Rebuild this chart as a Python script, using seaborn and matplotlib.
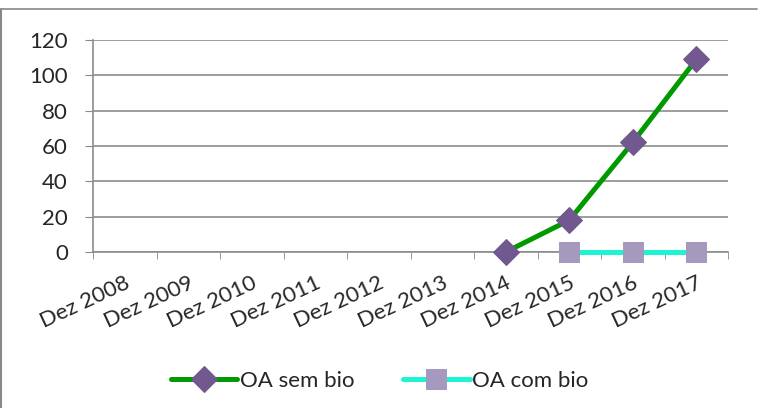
import matplotlib
matplotlib.use('Agg')
import matplotlib.pyplot as plt
import pandas as pd
import seaborn as sns
from matplotlib.lines import Line2D

# chart data
months = ['Dez 2008', 'Dez 2009', 'Dez 2010', 'Dez 2011', 'Dez 2012',
          'Dez 2013', 'Dez 2014', 'Dez 2015', 'Dez 2016', 'Dez 2017']
sem_bio = [None, None, None, None, None, None, 0, 18, 62, 109]
com_bio = [None, None, None, None, None, None, None, 0, 0, 0]
yticks = [0, 20, 40, 60, 80, 100, 120]

df = pd.DataFrame({'mes': months, 'OA sem bio': sem_bio, 'OA com bio': com_bio})
df['pos'] = range(len(months))
long = df.melt(id_vars=['mes', 'pos'], var_name='serie', value_name='valor').dropna()

sns.set_style('white')
plt.rcParams['font.family'] = ['Lato', 'DejaVu Sans']

fig = plt.figure(figsize=(7.59, 4.08), dpi=100)
ax = fig.add_axes([93 / 759, 1 - 252 / 408, (728 - 93) / 759, 212 / 408])

# green line with purple diamonds, cyan line with lavender squares
sns.lineplot(data=long[long['serie'] == 'OA sem bio'], x='pos', y='valor', ax=ax,
             color='#009A00', linewidth=3.6, marker='D', markersize=13,
             markerfacecolor='#71588F', markeredgecolor='#71588F', label='OA sem bio',
             clip_on=False, zorder=4)
sns.lineplot(data=long[long['serie'] == 'OA com bio'], x='pos', y='valor', ax=ax,
             color='#1CF4D4', linewidth=3.6, marker='s', markersize=14,
             markerfacecolor='#A599BD', markeredgecolor='#A599BD', label='OA com bio',
             clip_on=False, zorder=3)

ax.set_xlim(-0.5, len(months) - 0.5)
ax.set_ylim(0, 120)
ax.set_yticks(yticks)
ax.set_yticklabels([str(v) for v in yticks], fontsize=16)
ax.set_xticks(range(len(months)))
ax.set_xticklabels(months, fontsize=16, rotation=25, ha='right', rotation_mode='anchor')
ax.set_xticks([i - 0.5 for i in range(len(months) + 1)], minor=True)
ax.tick_params(axis='x', which='major', length=0, pad=15)
ax.tick_params(axis='x', which='minor', length=5, color='#888888', direction='out', bottom=True)
ax.tick_params(axis='y', length=6, color='#888888', direction='out', left=True, pad=12)
ax.set_xlabel('')
ax.set_ylabel('')
ax.yaxis.grid(True, color='#8C8C8C', linewidth=1.2)
ax.set_axisbelow(True)
for s in ['top', 'right']:
    ax.spines[s].set_visible(False)
for s in ['left', 'bottom']:
    ax.spines[s].set_color('#8C8C8C')
    ax.spines[s].set_linewidth(1.2)

ax.legend(loc='center', bbox_to_anchor=(0.5, 1 - 381 / 408), bbox_transform=fig.transFigure,
          ncol=2, frameon=False, fontsize=16, handlelength=3.0, handletextpad=0.1,
          columnspacing=2.2)

# chart frame (top and left edges)
fig.add_artist(Line2D([0.001, 0.998], [1 - 9 / 408, 1 - 9 / 408], transform=fig.transFigure,
                      color='#888888', linewidth=1.2))
fig.add_artist(Line2D([0.001, 0.001], [0, 1 - 9 / 408], transform=fig.transFigure,
                      color='#888888', linewidth=1.5))

fig.savefig('out.png', dpi=100)
